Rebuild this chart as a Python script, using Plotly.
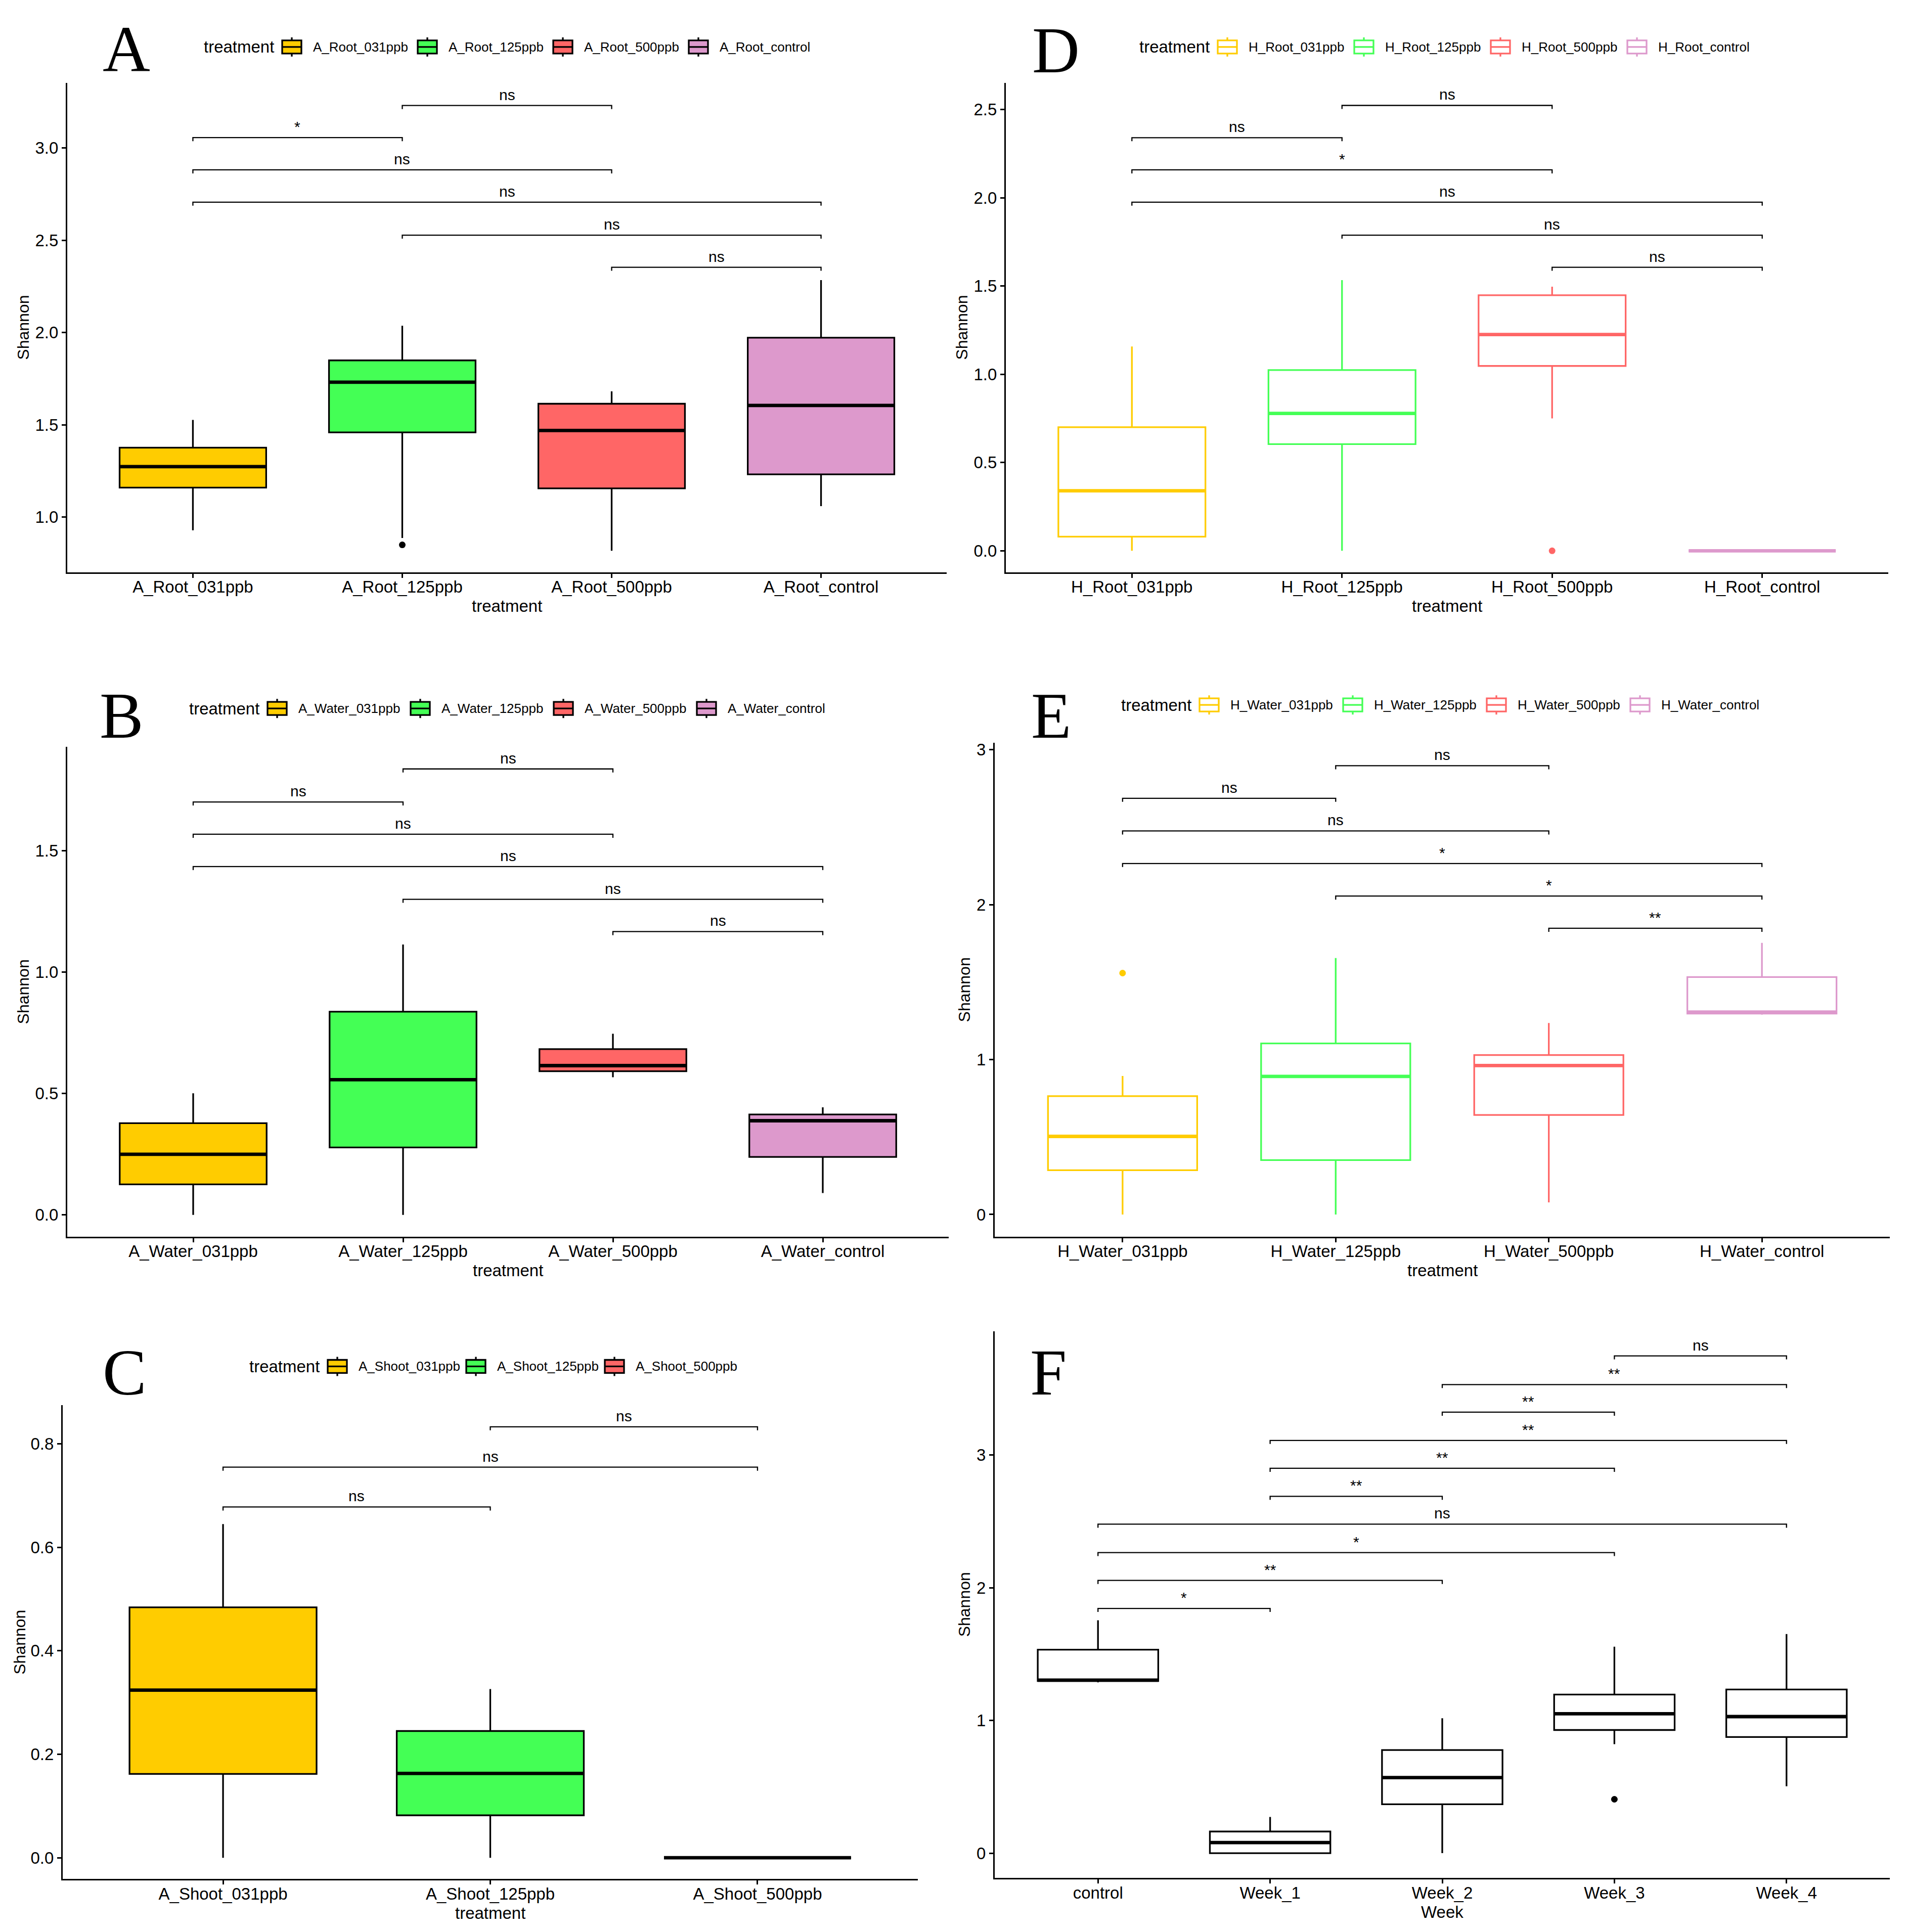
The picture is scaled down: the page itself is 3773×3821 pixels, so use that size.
import plotly.graph_objects as go

W, H = 3773, 3821
OFF = 8                       # default page margin of the HTML body
FW, FH = W - 2 * OFF, H - 2 * OFF
FONT = "Liberation Sans, Arial, Helvetica, sans-serif"
SERIF = "Liberation Serif, Times New Roman, serif"

COLORS = ["#FFCC00", "#44FF55", "#FF6666", "#DD99CC"]

# ---------------- Panel A : A_Root ----------------
A_cats = ["A_Root_031ppb", "A_Root_125ppb", "A_Root_500ppb", "A_Root_control"]
A_lower = [0.928, 0.886, 0.817, 1.059]
A_q1 = [1.159, 1.459, 1.155, 1.231]
A_med = [1.273, 1.731, 1.469, 1.605]
A_q3 = [1.376, 1.849, 1.614, 1.972]
A_upper = [1.526, 2.037, 1.681, 2.284]
A_out_idx = [1]
A_out_y = [0.849]
A_sig_from = [1, 0, 0, 0, 1, 2]
A_sig_to = [2, 1, 2, 3, 3, 3]
A_sig_lab = ["ns", "*", "ns", "ns", "ns", "ns"]
A_sig_y = [3.231, 3.057, 2.882, 2.707, 2.528, 2.354]

# ---------------- Panel B : A_Water ----------------
B_cats = ["A_Water_031ppb", "A_Water_125ppb", "A_Water_500ppb", "A_Water_control"]
B_lower = [0.0, 0.0, 0.567, 0.090]
B_q1 = [0.126, 0.278, 0.592, 0.239]
B_med = [0.250, 0.557, 0.615, 0.388]
B_q3 = [0.378, 0.837, 0.683, 0.414]
B_upper = [0.501, 1.114, 0.746, 0.443]
B_out_idx = []
B_out_y = []
B_sig_from = [1, 0, 0, 0, 1, 2]
B_sig_to = [2, 1, 2, 3, 3, 3]
B_sig_lab = ["ns", "ns", "ns", "ns", "ns", "ns"]
B_sig_y = [1.837, 1.701, 1.568, 1.435, 1.300, 1.167]

# ---------------- Panel C : A_Shoot ----------------
C_cats = ["A_Shoot_031ppb", "A_Shoot_125ppb", "A_Shoot_500ppb"]
C_lower = [0.0, 0.0, 0.0]
C_q1 = [0.162, 0.082, 0.0]
C_med = [0.324, 0.163, 0.0]
C_q3 = [0.484, 0.245, 0.0]
C_upper = [0.645, 0.326, 0.0]
C_out_idx = []
C_out_y = []
C_sig_from = [1, 0, 0]
C_sig_to = [2, 2, 1]
C_sig_lab = ["ns", "ns", "ns"]
C_sig_y = [0.833, 0.755, 0.678]

# ---------------- Panel D : H_Root ----------------
D_cats = ["H_Root_031ppb", "H_Root_125ppb", "H_Root_500ppb", "H_Root_control"]
D_lower = [0.0, 0.0, 0.750, 0.0]
D_q1 = [0.080, 0.604, 1.047, 0.0]
D_med = [0.340, 0.778, 1.225, 0.0]
D_q3 = [0.700, 1.024, 1.448, 0.0]
D_upper = [1.157, 1.533, 1.496, 0.0]
D_out_idx = [2]
D_out_y = [0.0]
D_sig_from = [1, 0, 0, 0, 1, 2]
D_sig_to = [2, 1, 2, 3, 3, 3]
D_sig_lab = ["ns", "ns", "*", "ns", "ns", "ns"]
D_sig_y = [2.523, 2.340, 2.158, 1.975, 1.788, 1.606]

# ---------------- Panel E : H_Water ----------------
E_cats = ["H_Water_031ppb", "H_Water_125ppb", "H_Water_500ppb", "H_Water_control"]
E_lower = [0.0, 0.0, 0.078, 1.290]
E_q1 = [0.286, 0.351, 0.642, 1.297]
E_med = [0.504, 0.891, 0.961, 1.306]
E_q3 = [0.764, 1.104, 1.029, 1.532]
E_upper = [0.894, 1.655, 1.236, 1.753]
E_out_idx = [0]
E_out_y = [1.558]
E_sig_from = [1, 0, 0, 0, 1, 2]
E_sig_to = [2, 1, 2, 3, 3, 3]
E_sig_lab = ["ns", "ns", "ns", "*", "*", "**"]
E_sig_y = [2.896, 2.686, 2.475, 2.265, 2.055, 1.847]

# ---------------- Panel F : Week ----------------
F_cats = ["control", "Week_1", "Week_2", "Week_3", "Week_4"]
F_lower = [1.287, 0.0, 0.0, 0.821, 0.504]
F_q1 = [1.297, 0.0, 0.368, 0.928, 0.875]
F_med = [1.304, 0.080, 0.569, 1.050, 1.029]
F_q3 = [1.533, 0.163, 0.777, 1.195, 1.233]
F_upper = [1.755, 0.273, 1.017, 1.556, 1.651]
F_out_idx = [3]
F_out_y = [0.406]
F_sig_from = [3, 2, 2, 1, 1, 1, 0, 0, 0, 0]
F_sig_to = [4, 4, 3, 4, 3, 2, 4, 3, 2, 1]
F_sig_lab = ["ns", "**", "**", "**", "**", "**", "ns", "*", "**", "*"]
F_sig_y = [3.747, 3.531, 3.323, 3.110, 2.900, 2.689, 2.479, 2.265, 2.055, 1.844]

panels = [
    dict(letter="A", cats=A_cats, lower=A_lower, q1=A_q1, med=A_med, q3=A_q3, upper=A_upper,
         out_idx=A_out_idx, out_y=A_out_y, sf=A_sig_from, st=A_sig_to, sl=A_sig_lab, sy=A_sig_y,
         style="filled", yrange=[0.701, 3.354], dtick=0.5, fmt=".1f", xtitle="treatment",
         box=(133, 1872, 159, 1128), lpos=(250, 92), ytx=46, legend=(401, 88, 268)),
    dict(letter="D", cats=D_cats, lower=D_lower, q1=D_q1, med=D_med, q3=D_q3, upper=D_upper,
         out_idx=D_out_idx, out_y=D_out_y, sf=D_sig_from, st=D_sig_to, sl=D_sig_lab, sy=D_sig_y,
         style="outline", yrange=[-0.121, 2.651], dtick=0.5, fmt=".1f", xtitle="treatment",
         box=(1989, 3734, 159, 1128), lpos=(2088, 94), ytx=1902, legend=(2251, 88, 270)),
    dict(letter="B", cats=B_cats, lower=B_lower, q1=B_q1, med=B_med, q3=B_q3, upper=B_upper,
         out_idx=B_out_idx, out_y=B_out_y, sf=B_sig_from, st=B_sig_to, sl=B_sig_lab, sy=B_sig_y,
         style="filled", yrange=[-0.0895, 1.928], dtick=0.5, fmt=".1f", xtitle="treatment",
         box=(133, 1876, 1474, 2444), lpos=(240, 1412), ytx=46, legend=(372, 1398, 283)),
    dict(letter="E", cats=E_cats, lower=E_lower, q1=E_q1, med=E_med, q3=E_q3, upper=E_upper,
         out_idx=E_out_idx, out_y=E_out_y, sf=E_sig_from, st=E_sig_to, sl=E_sig_lab, sy=E_sig_y,
         style="outline", yrange=[-0.143, 3.044], dtick=1, fmt="d", xtitle="treatment",
         box=(1967, 3737, 1466, 2444), lpos=(2078, 1412), ytx=1907, legend=(2215, 1391, 284)),
    dict(letter="C", cats=C_cats, lower=C_lower, q1=C_q1, med=C_med, q3=C_q3, upper=C_upper,
         out_idx=C_out_idx, out_y=C_out_y, sf=C_sig_from, st=C_sig_to, sl=C_sig_lab, sy=C_sig_y,
         style="filled", yrange=[-0.041, 0.8745], dtick=0.2, fmt=".1f", xtitle="treatment",
         box=(124, 1815, 2778, 3716), lpos=(246, 2713), ytx=39, legend=(491, 2701, 274)),
    dict(letter="F", cats=F_cats, lower=F_lower, q1=F_q1, med=F_med, q3=F_q3, upper=F_upper,
         out_idx=F_out_idx, out_y=F_out_y, sf=F_sig_from, st=F_sig_to, sl=F_sig_lab, sy=F_sig_y,
         style="plain", yrange=[-0.187, 3.934], dtick=1, fmt="d", xtitle="Week",
         box=(1967, 3737, 2631, 3714), lpos=(2073, 2713), ytx=1907, legend=None),
]


def px(x):
    return (x - OFF) / FW


def py(y):
    return 1 - (y - OFF) / FH


def box_colors(style, i):
    if style == "filled":
        return COLORS[i], "black"
    if style == "outline":
        return "white", COLORS[i]
    return "white", "black"


BOX_W = 0.7
LW = 3.3
MED_W = 6.8

fig = go.Figure()
layout = dict(width=FW, height=FH, margin=dict(l=0, r=0, t=0, b=0),
              paper_bgcolor="white", plot_bgcolor="white", showlegend=False,
              boxmode="overlay", font=dict(family=FONT, color="black"))
annotations = []
shapes = []

for n, p in enumerate(panels, start=1):
    xa = "x" if n == 1 else f"x{n}"
    ya = "y" if n == 1 else f"y{n}"
    x0, x1, y0, y1 = p["box"]
    ncat = len(p["cats"])
    yr = p["yrange"]
    plot_h = y1 - y0
    tip = 7.0 * (yr[1] - yr[0]) / plot_h

    for i, cat in enumerate(p["cats"]):
        fill, lcol = box_colors(p["style"], i)
        fig.add_trace(go.Box(
            x=[i], q1=[p["q1"][i]], median=[p["med"][i]], q3=[p["q3"][i]],
            lowerfence=[p["lower"][i]], upperfence=[p["upper"][i]],
            width=BOX_W, fillcolor=fill, line=dict(color=lcol, width=LW),
            whiskerwidth=0, boxpoints=False, name=cat, showlegend=False,
            hoverinfo="skip", xaxis=xa, yaxis=ya))
        fig.add_trace(go.Scatter(
            x=[i - BOX_W / 2, i + BOX_W / 2], y=[p["med"][i], p["med"][i]],
            mode="lines", line=dict(color=lcol, width=MED_W), hoverinfo="skip",
            showlegend=False, xaxis=xa, yaxis=ya))

    # outliers
    for oi, oy in zip(p["out_idx"], p["out_y"]):
        ocol = COLORS[oi] if p["style"] == "outline" else "black"
        fig.add_trace(go.Scatter(x=[oi], y=[oy], mode="markers",
                                 marker=dict(color=ocol, size=13, line=dict(width=0)),
                                 hoverinfo="skip", showlegend=False, xaxis=xa, yaxis=ya))

    # significance brackets
    for a, b, lab, yy in zip(p["sf"], p["st"], p["sl"], p["sy"]):
        fig.add_trace(go.Scatter(x=[a, a, b, b], y=[yy - tip, yy, yy, yy - tip],
                                 mode="lines", line=dict(color="black", width=2.3),
                                 hoverinfo="skip", showlegend=False, xaxis=xa, yaxis=ya))
        annotations.append(dict(x=(a + b) / 2, y=yy, xref=xa, yref=ya, text=lab,
                                showarrow=False, yanchor="bottom", xanchor="center", yshift=3,
                                font=dict(size=30, family=FONT, color="black")))

    axis_common = dict(showline=True, linecolor="black", linewidth=3.2, ticks="outside",
                       ticklen=8, tickwidth=3, tickcolor="black", showgrid=False,
                       zeroline=False, fixedrange=True,
                       tickfont=dict(size=33, family=FONT, color="black"))
    layout["xaxis" if n == 1 else f"xaxis{n}"] = dict(
        domain=[px(x0), px(x1)], range=[-0.6, ncat - 0.4], anchor=ya,
        tickmode="array", tickvals=list(range(ncat)), ticktext=p["cats"],
        ticklabelstandoff=-10, **axis_common)
    layout["yaxis" if n == 1 else f"yaxis{n}"] = dict(
        domain=[py(y1), py(y0)], range=yr, anchor=xa, tick0=0, dtick=p["dtick"],
        tickformat=p["fmt"], **axis_common)

    # axis titles
    annotations.append(dict(x=px((x0 + x1) / 2), y=py(y1 + 67), xref="paper", yref="paper",
                            text=p["xtitle"], showarrow=False, xanchor="center", yanchor="middle",
                            font=dict(size=33, family=FONT, color="black")))
    annotations.append(dict(x=px(p["ytx"]), y=py((y0 + y1) / 2), xref="paper", yref="paper",
                            text="Shannon", showarrow=False, textangle=-90,
                            xanchor="center", yanchor="middle",
                            font=dict(size=32, family=FONT, color="black")))
    # panel letter
    annotations.append(dict(x=px(p["lpos"][0]), y=py(p["lpos"][1]), xref="paper", yref="paper",
                            text=p["letter"], showarrow=False, xanchor="center", yanchor="middle",
                            font=dict(size=130, family=SERIF, color="black")))

    # legend (ggplot-style, horizontal, above panel)
    if p["legend"] is not None:
        tx, cy, pitch = p["legend"]
        annotations.append(dict(x=px(tx), y=py(cy), xref="paper", yref="paper", text="treatment",
                                showarrow=False, xanchor="left", yanchor="middle",
                                font=dict(size=33, family=FONT, color="black")))
        for i, cat in enumerate(p["cats"]):
            cx = tx + 176 + i * pitch
            fill, lcol = box_colors(p["style"], i)
            shapes.append(dict(type="line", xref="paper", yref="paper",
                               x0=px(cx), x1=px(cx), y0=py(cy - 19), y1=py(cy + 19),
                               line=dict(color=lcol, width=LW)))
            shapes.append(dict(type="rect", xref="paper", yref="paper",
                               x0=px(cx - 19), x1=px(cx + 19), y0=py(cy + 13), y1=py(cy - 13),
                               fillcolor=fill, line=dict(color=lcol, width=LW)))
            shapes.append(dict(type="line", xref="paper", yref="paper",
                               x0=px(cx - 19), x1=px(cx + 19), y0=py(cy), y1=py(cy),
                               line=dict(color=lcol, width=LW)))
            annotations.append(dict(x=px(cx + 40), y=py(cy), xref="paper", yref="paper",
                                    text=cat, showarrow=False, xanchor="left", yanchor="middle",
                                    font=dict(size=26, family=FONT, color="black")))

layout["annotations"] = annotations
layout["shapes"] = shapes
fig.update_layout(**layout)
fig.write_html("out.html")
